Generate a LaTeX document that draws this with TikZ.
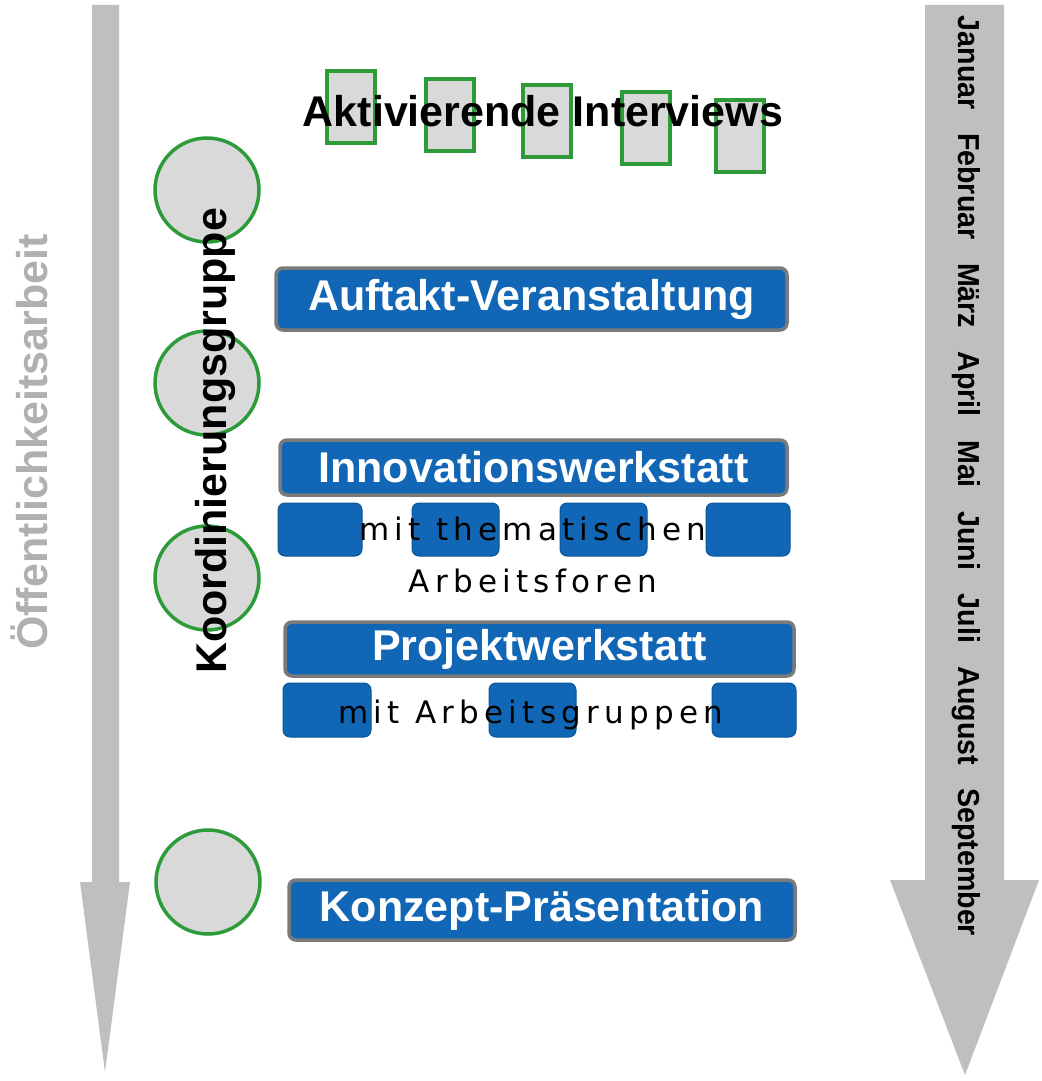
\documentclass[tikz,border=0pt]{standalone}
\usepackage{fontspec}
\setmainfont{Liberation Sans}
\newfontfamily\spacedfont[LetterSpace=17]{DejaVu Sans}
\newfontfamily\narrowbold[FakeStretch=0.85]{Liberation Sans Bold}
\definecolor{arrowgrey}{HTML}{BFBFBF}
\definecolor{lightgreytext}{HTML}{B0B0B0}
\definecolor{circlefill}{HTML}{D9D9D9}
\definecolor{greenline}{HTML}{2E9B3B}
\definecolor{boxblue}{HTML}{1167B5}
\definecolor{boxborder}{HTML}{7A7A7A}
\definecolor{smallborder}{HTML}{0B559A}
\begin{document}
\begin{tikzpicture}[x=1pt,y=-1pt,
  meeting/.style={circle, draw=greenline, line width=3.5pt, fill=circlefill, minimum size=104pt, inner sep=0},
  interview/.style={rectangle, draw=greenline, line width=4.5pt, fill=circlefill, minimum width=48pt, minimum height=72pt, inner sep=0},
  mainbox/.style={rectangle, rounded corners=7pt, draw=boxborder, line width=3.5pt, fill=boxblue, text=white,
    font=\bfseries\fontsize{43}{50}\selectfont, inner sep=0},
  subbox/.style={rectangle, rounded corners=7pt, draw=smallborder, line width=1pt, fill=boxblue, inner sep=0},
  spacedtext/.style={align=center, inner sep=0, font=\spacedfont\fontsize{31}{52}\selectfont},
  bigtext/.style={inner sep=0, font=\bfseries\fontsize{43}{50}\selectfont}
]
\fill[white] (0,0) rectangle (1041,1081);
\useasboundingbox (0,0) rectangle (1041,1081);

% timeline arrows
\fill[arrowgrey] (92,5) -- (119,5) -- (119,882) -- (130,882) -- (105,1072) -- (80,882) -- (92,882) -- cycle;
\fill[arrowgrey] (925,5) -- (1004,5) -- (1004,880) -- (1039,880) -- (965,1075) -- (890,880) -- (925,880) -- cycle;

\node[rotate=-90, inner sep=0] (months) at (966,476)
  {\resizebox{920pt}{22pt}{\narrowbold Januar\hspace{0.7em}Februar\hspace{0.7em}März\hspace{0.7em}April\hspace{0.7em}Mai\hspace{0.7em}Juni\hspace{0.7em}Juli\hspace{0.7em}August\hspace{0.7em}September}};

\node[bigtext, rotate=90, text=lightgreytext] (oeff) at (29,442) {Öffentlichkeitsarbeit};

% Koordinierungsgruppe meetings
\node[meeting] (c1) at (207,190) {};
\node[meeting] (c2) at (207,383) {};
\node[meeting] (c3) at (207,578) {};
\node[meeting] (c4) at (208,882) {};
\node[bigtext, rotate=90] (koord) at (215,441) {Koordinierungsgruppe};

% interviews
\node[interview] (i1) at (351,107) {};
\node[interview] (i2) at (450,115) {};
\node[interview] (i3) at (547,121) {};
\node[interview] (i4) at (646,128) {};
\node[interview] (i5) at (740,136) {};
\node[bigtext] (interviews) at (543,111) {Aktivierende Interviews};

% events
\node[mainbox, minimum width=511pt, minimum height=62pt] (auftakt) at (531.5,299) {Auftakt-Veranstaltung};

\node[mainbox, minimum width=507pt, minimum height=55pt] (innov) at (533.5,467.5) {Innovationswerkstatt};
\node[subbox, minimum width=84pt, minimum height=53pt] (f1) at (320,529.5) {};
\node[subbox, minimum width=87pt, minimum height=53pt] (f2) at (455.5,529.5) {};
\node[subbox, minimum width=87pt, minimum height=53pt] (f3) at (603.5,529.5) {};
\node[subbox, minimum width=84pt, minimum height=53pt] (f4) at (748,529.5) {};
\node[spacedtext, anchor=base] (foren) at (533,592) {mit thematischen\\Arbeitsforen};

\node[mainbox, minimum width=509pt, minimum height=54pt] (projekt) at (539.5,649) {Projektwerkstatt};
\node[subbox, minimum width=88pt, minimum height=54pt] (g1) at (327,710) {};
\node[subbox, minimum width=87pt, minimum height=54pt] (g2) at (532.5,710) {};
\node[subbox, minimum width=84pt, minimum height=54pt] (g3) at (754,710) {};
\node[spacedtext, anchor=base] (gruppen) at (531,723) {mit Arbeitsgruppen};

\node[mainbox, minimum width=506pt, minimum height=60pt] (konzept) at (542,910) {Konzept-Präsentation};
\end{tikzpicture}
\end{document}
